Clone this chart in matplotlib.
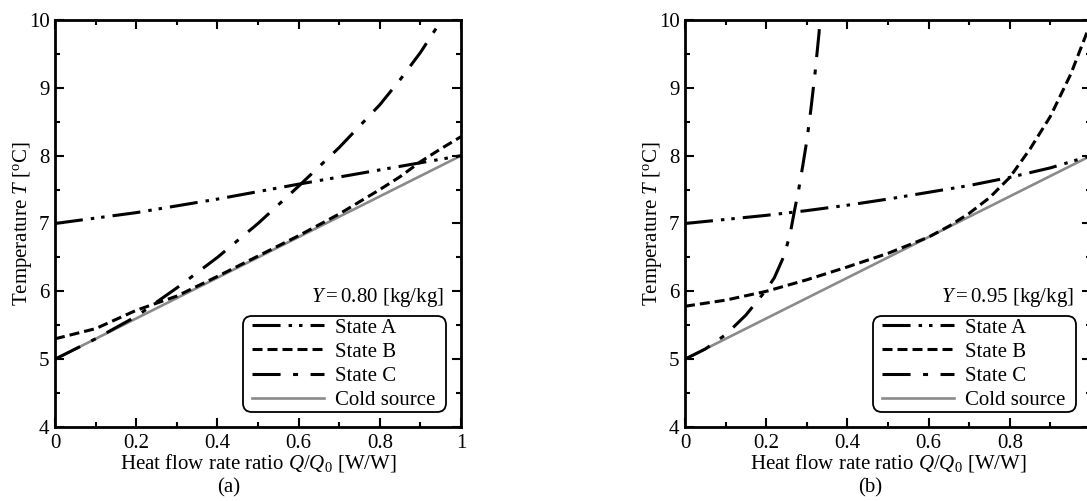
import matplotlib
matplotlib.use("Agg")
import matplotlib.pyplot as plt
from matplotlib.ticker import MultipleLocator
from matplotlib.patches import FancyBboxPatch

plt.rcParams['font.family'] = ['Liberation Serif', 'DejaVu Serif']
plt.rcParams['mathtext.fontset'] = 'custom'
plt.rcParams['mathtext.rm'] = 'Liberation Serif'
plt.rcParams['mathtext.it'] = 'Liberation Serif:italic'
plt.rcParams['lines.scale_dashes'] = False

# ---------------- data ----------------
# Panel (a): Y = 0.80 kg/kg
a_A_x = [0, 0.2, 0.4, 0.6, 0.8, 1.0]
a_A_y = [7.0, 7.16, 7.36, 7.58, 7.79, 8.0]
a_B_x = [0, 0.1, 0.2, 0.3, 0.4, 0.5, 0.6, 0.7, 0.8, 0.85, 0.9, 0.95, 1.0]
a_B_y = [5.3, 5.45, 5.72, 5.93, 6.22, 6.52, 6.82, 7.14, 7.5, 7.69, 7.91, 8.1, 8.28]
a_C_x = [0, 0.1, 0.2, 0.3, 0.4, 0.5, 0.6, 0.7, 0.8, 0.85, 0.9, 0.95, 0.97]
a_C_y = [5.0, 5.3, 5.63, 6.05, 6.5, 7.0, 7.55, 8.12, 8.75, 9.12, 9.52, 9.98, 10.2]
a_cold_x = [0, 1.0]
a_cold_y = [5.0, 8.0]

# Panel (b): Y = 0.95 kg/kg
b_A_x = [0, 0.1, 0.2, 0.3, 0.4, 0.5, 0.6, 0.7, 0.8, 0.9, 1.0]
b_A_y = [7.0, 7.06, 7.12, 7.19, 7.27, 7.36, 7.46, 7.56, 7.68, 7.82, 8.0]
b_B_x = [0, 0.1, 0.2, 0.3, 0.4, 0.5, 0.6, 0.65, 0.7, 0.75, 0.8, 0.85, 0.9, 0.95, 1.0]
b_B_y = [5.78, 5.87, 6.0, 6.17, 6.36, 6.56, 6.8, 6.96, 7.15, 7.38, 7.68, 8.1, 8.58, 9.2, 9.97]
b_C_x = [0, 0.05, 0.1, 0.15, 0.2, 0.22, 0.24, 0.25, 0.26, 0.27, 0.28, 0.29, 0.3,
         0.31, 0.32, 0.33, 0.335]
b_C_y = [5.0, 5.15, 5.36, 5.65, 6.02, 6.2, 6.47, 6.65, 6.88, 7.2, 7.5, 7.85, 8.22,
         8.68, 9.2, 9.8, 10.2]
b_cold_x = [0, 1.0]
b_cold_y = [5.0, 8.0]

labels = ['State A', 'State B', 'State C', 'Cold source']
x_ticks = [0, 0.2, 0.4, 0.6, 0.8, 1.0]
x_ticklabels_a = ['0', '0.2', '0.4', '0.6', '0.8', '1']
x_ticklabels_b = ['0', '0.2', '0.4', '0.6', '0.8', '']
y_ticks = [4, 5, 6, 7, 8, 9, 10]
y_ticklabels = ['4', '5', '6', '7', '8', '9', '10']
y_notes = [r'$Y$$=$0.80 [kg/kg]', r'$Y$$=$0.95 [kg/kg]']
captions = ['(a)', '(b)']

FS = 15
fig = plt.figure(figsize=(10.87, 5.01), dpi=100)

AXW_PX, AXH_PX = 406, 407
W = AXW_PX / 1087
H = AXH_PX / 501
bottom = 1 - 427 / 501
ax_left = fig.add_axes([55 / 1087, bottom, W, H])
ax_right = fig.add_axes([685 / 1087, bottom, W, H])

dash_A = (0, (20.2, 5.8, 2.5, 5.0, 2.5, 5.8))
dash_B = (0, (7.2, 3.6))
dash_C = (0, (20.2, 9.0, 3.6, 9.0))

panels = [
    (ax_left, a_A_x, a_A_y, a_B_x, a_B_y, a_C_x, a_C_y, a_cold_x, a_cold_y, x_ticklabels_a),
    (ax_right, b_A_x, b_A_y, b_B_x, b_B_y, b_C_x, b_C_y, b_cold_x, b_cold_y, x_ticklabels_b),
]

# legend frame in axes fraction (pixel measurements relative to axes)
fr_x0 = (243 - 55) / AXW_PX
fr_x1 = (446 - 55) / AXW_PX
fr_y0 = (427 - 412) / AXH_PX
fr_y1 = (427 - 316) / AXH_PX

for i, (ax, Ax, Ay, Bx, By, Cx, Cy, Kx, Ky, xtl) in enumerate(panels):
    lw = 2.2
    ax.plot(Kx, Ky, color='#8a8a8a', lw=1.9, label=labels[3], zorder=2)
    ax.plot(Ax, Ay, color='black', lw=lw, linestyle=dash_A, label=labels[0], zorder=3)
    ax.plot(Bx, By, color='black', lw=lw, linestyle=dash_B, label=labels[1], zorder=3)
    ax.plot(Cx, Cy, color='black', lw=lw, linestyle=dash_C, label=labels[2], zorder=3)
    handles, labs = ax.get_legend_handles_labels()
    order = [1, 2, 3, 0]

    frame = FancyBboxPatch((fr_x0, fr_y0), fr_x1 - fr_x0, fr_y1 - fr_y0,
                           boxstyle='round,pad=0,rounding_size=0.022',
                           transform=ax.transAxes, facecolor='white',
                           edgecolor='black', linewidth=1.3, zorder=4)
    ax.add_patch(frame)

    leg = ax.legend([handles[j] for j in order], [labs[j] for j in order],
                    loc='center right',
                    bbox_to_anchor=(fr_x1 - 11 / AXW_PX, (fr_y0 + fr_y1) / 2),
                    borderaxespad=0, fontsize=FS, handlelength=3.45,
                    handletextpad=0.5, labelspacing=0.22, borderpad=0.0,
                    frameon=False)
    leg.set_zorder(5)

    ax.set_xlim(0, 1)
    ax.set_ylim(4, 10)
    ax.set_xticks(x_ticks)
    ax.set_xticklabels(xtl)
    ax.set_yticks(y_ticks)
    ax.set_yticklabels(y_ticklabels)
    ax.xaxis.set_minor_locator(MultipleLocator(0.1))
    ax.yaxis.set_minor_locator(MultipleLocator(0.5))
    ax.tick_params(which='both', direction='in', top=True, right=True,
                   labelsize=FS, width=1.5)
    ax.tick_params(which='major', length=6.5)
    ax.tick_params(which='minor', length=3.8)
    ax.tick_params(axis='x', which='major', pad=5)
    ax.tick_params(axis='y', which='major', pad=4)
    for sp in ax.spines.values():
        sp.set_linewidth(2.0)

    ax.set_xlabel(r'Heat flow rate ratio $Q$/$Q_0$ [W/W]', fontsize=FS, labelpad=-1)
    ax.set_ylabel(r'Temperature $T$ [$^{\mathrm{o}}$C]', fontsize=FS, labelpad=-4)
    ax.text(0.958, 0.317, y_notes[i], transform=ax.transAxes, ha='right',
            va='center', fontsize=FS)

fig.text(229 / 1087, 1 - 488 / 501, captions[0], ha='center', va='center', fontsize=FS)
fig.text(870 / 1087, 1 - 488 / 501, captions[1], ha='center', va='center', fontsize=FS)

fig.savefig('out.png', dpi=100)
